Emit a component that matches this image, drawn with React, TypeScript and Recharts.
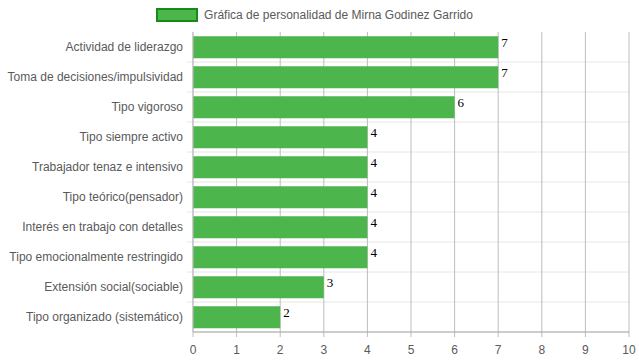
import { BarChart, Bar, XAxis, YAxis, CartesianGrid, Legend, LabelList } from 'recharts';

const categories = [
    'Actividad de liderazgo',
    'Toma de decisiones/impulsividad',
    'Tipo vigoroso',
    'Tipo siempre activo',
    'Trabajador tenaz e intensivo',
    'Tipo teórico(pensador)',
    'Interés en trabajo con detalles',
    'Tipo emocionalmente restringido',
    'Extensión social(sociable)',
    'Tipo organizado (sistemático)',
];

const scores = [7, 7, 6, 4, 4, 4, 4, 4, 3, 2];

const xTicks = [0, 1, 2, 3, 4, 5, 6, 7, 8, 9, 10];

const seriesName = 'Gráfica de personalidad de Mirna Godinez Garrido';

const data = categories.map((name, i) => ({ name, value: scores[i] }));

const barColor = '#4cb54c';
const textColor = '#5a5a5a';
const fontSans = '"Liberation Sans", Arial, Helvetica, sans-serif';

const LegendBox = () => (
    <div
        style={{
            display: 'flex',
            justifyContent: 'center',
            alignItems: 'center',
            paddingTop: 4,
            fontFamily: fontSans,
            fontSize: 12,
            color: textColor,
        }}
    >
        <span
            style={{
                display: 'inline-block',
                width: 38,
                height: 10,
                background: barColor,
                border: '2px solid #158c15',
                marginRight: 6,
            }}
        />
        <span>{seriesName}</span>
    </div>
);

const ValueLabel = (props: any) => {
    const { x, y, width, value } = props;
    return (
        <text
            x={x + width + 3}
            y={y + 10.5}
            fill="#000"
            fontSize={13}
            fontFamily='"Liberation Serif", "Times New Roman", serif'
        >
            {value}
        </text>
    );
};

const CategoryTick = (props: any) => {
    const { x, y, payload } = props;
    return (
        <text
            x={x}
            y={y}
            dy={4}
            textAnchor="end"
            fill={textColor}
            fontSize={12}
            fontFamily={fontSans}
        >
            {payload.value}
        </text>
    );
};

const rowLines = ({ offset }: any) => {
    const n = categories.length;
    const out: number[] = [];
    for (let i = 1; i < n; i++) out.push(offset.top + (i * offset.height) / n);
    return out;
};

const RowLine = (props: any) => (
    <line
        key={props.key}
        x1={props.x1 - 6}
        x2={props.x2}
        y1={props.y1}
        y2={props.y2}
        stroke="#e6e6e6"
        strokeWidth={1}
    />
);

export default function App() {
    return (
        <div style={{ position: 'absolute', left: 0, top: 0 }}>
            <BarChart
                width={639}
                height={360}
                data={data}
                layout="vertical"
                margin={{ top: 4, right: 10, bottom: 8, left: 0 }}
                barCategoryGap="14%"
            >
                <Legend verticalAlign="top" height={28} content={<LegendBox />} />
                <CartesianGrid
                    vertical={false}
                    horizontal={RowLine}
                    horizontalCoordinatesGenerator={rowLines}
                />
                <CartesianGrid horizontal={false} stroke="#bdbdbd" />
                <XAxis
                    type="number"
                    domain={[0, 10]}
                    ticks={xTicks}
                    interval={0}
                    height={20}
                    stroke="#999"
                    tickLine={{ stroke: '#bdbdbd' }}
                    tickSize={5}
                    tickMargin={8}
                    tick={{ fill: textColor, fontSize: 12, fontFamily: fontSans }}
                />
                <YAxis
                    type="category"
                    dataKey="name"
                    width={193}
                    interval={0}
                    stroke="#bdbdbd"
                    tickLine={false}
                    tickSize={6}
                    tickMargin={4}
                    tick={<CategoryTick />}
                />
                <Bar dataKey="value" name={seriesName} fill={barColor} isAnimationActive={false}>
                    <LabelList dataKey="value" content={<ValueLabel />} />
                </Bar>
            </BarChart>
        </div>
    );
}
